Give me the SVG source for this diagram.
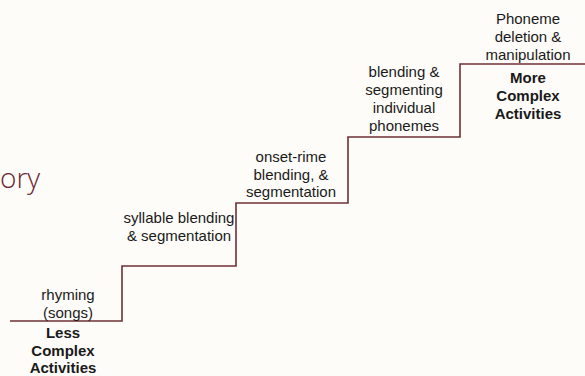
<svg xmlns="http://www.w3.org/2000/svg" width="585" height="376" viewBox="0 0 585 376">
<style>
.lbl{font-family:"Liberation Sans",Arial,sans-serif;font-size:15px;fill:#1a1a1a;text-anchor:middle}
.b{font-weight:bold}
.stair{fill:none;stroke:#6e3035;stroke-width:1.6}
.title{font-family:"Open Sans","Noto Sans",sans-serif;font-weight:300;font-size:28px;fill:#6b2630}
</style>
<rect width="585" height="376" fill="#fdfcf8"/>
<g id="title"><text class="title" x="0" y="188">ory</text></g>
<g id="connectors">
<path class="stair" d="M10,321 H122 V266 H236 V203 H348 V137 H460 V64 H585"/>
</g>
<g id="rhyming"><text class="lbl" x="68" y="300">rhyming</text><text class="lbl" x="68" y="318">(songs)</text></g>
<g id="less"><text class="lbl b" x="63" y="338">Less</text><text class="lbl b" x="63" y="356">Complex</text><text class="lbl b" x="63" y="373">Activities</text></g>
<g id="syllable"><text class="lbl" x="179" y="223">syllable blending</text><text class="lbl" x="179" y="241">&amp; segmentation</text></g>
<g id="onset"><text class="lbl" x="291" y="162">onset-rime</text><text class="lbl" x="291" y="180">blending, &amp;</text><text class="lbl" x="291" y="197">segmentation</text></g>
<g id="phonemes"><text class="lbl" x="404" y="77">blending &amp;</text><text class="lbl" x="404" y="95">segmenting</text><text class="lbl" x="404" y="113">individual</text><text class="lbl" x="404" y="131">phonemes</text></g>
<g id="deletion"><text class="lbl" x="528" y="24">Phoneme</text><text class="lbl" x="528" y="42">deletion &amp;</text><text class="lbl" x="528" y="60">manipulation</text></g>
<g id="more"><text class="lbl b" x="528" y="83">More</text><text class="lbl b" x="528" y="101">Complex</text><text class="lbl b" x="528" y="119">Activities</text></g>
</svg>
